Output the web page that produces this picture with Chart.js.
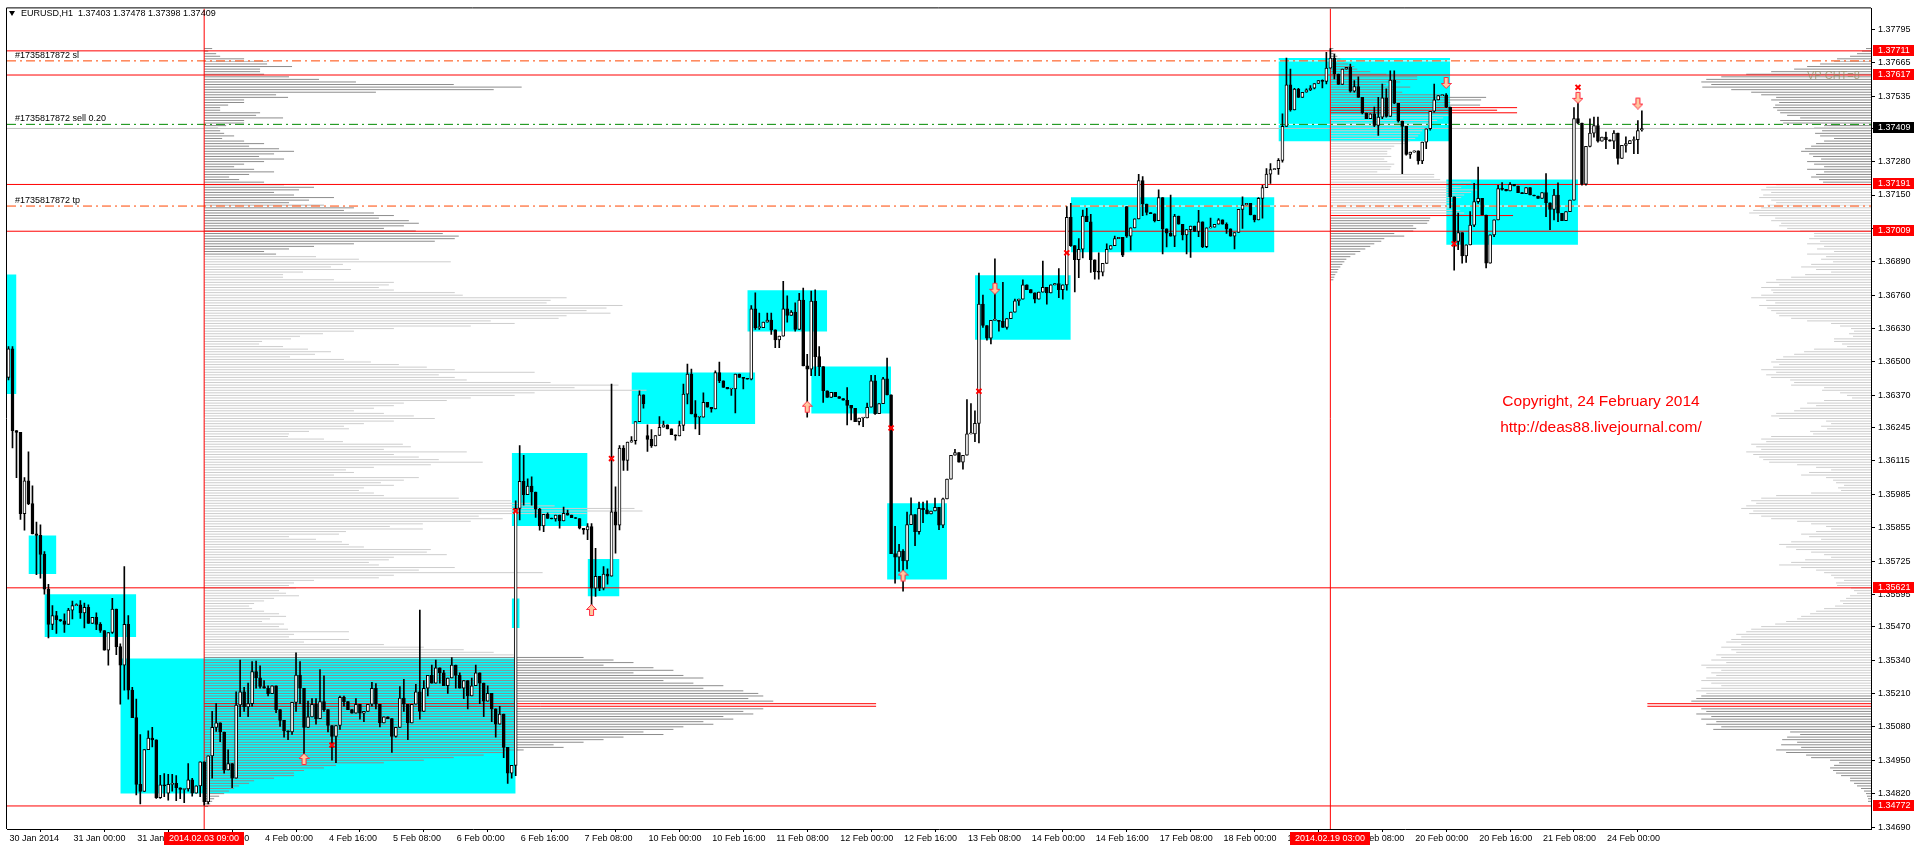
<!DOCTYPE html>
<html lang="en">
<head>
<meta charset="UTF-8" />
<title>EURUSD,H1</title>
<script src="https://cdn.jsdelivr.net/npm/chart.js@4/dist/chart.umd.min.js"></script>
<style>
  html, body { margin: 0; padding: 0; background: #fff; }
  #wrap { position: relative; width: 1920px; height: 850px; overflow: hidden; background: #fff; }
  #chart { position: absolute; left: 0; top: 0; }
  .hdr { position: absolute; left: 21px; top: 8px; font: 9px "Liberation Sans", Arial, sans-serif; color: #000; white-space: pre; }
  .tri { position: absolute; left: 9px; top: 11px; width: 0; height: 0; border-left: 3.5px solid transparent; border-right: 3.5px solid transparent; border-top: 5px solid #000; }
  .copy { position: absolute; left: 1401px; width: 400px; text-align: center; color: #f00; font: 15.5px "Liberation Sans", Arial, sans-serif; line-height: 18px; }
</style>
</head>
<body>
<div id="wrap">
  <canvas id="chart" width="1920" height="850"></canvas>
  <div class="tri"></div>
  <div class="hdr">EURUSD,H1  1.37403 1.37478 1.37398 1.37409</div>
  <div class="copy" style="top:392px">Copyright, 24 February 2014</div>
  <div class="copy" style="top:418px">http://deas88.livejournal.com/</div>
</div>
<script>
// prices in points (1e-5), one bar per hour from 30 Jan 2014 08:00
const closes = [
  136551,136233,136226,135910,136037,135949,135831,135825,135751,135616,
  135479,135513,135497,135493,135479,135534,135552,135555,135523,135545,
  135482,135506,135479,135455,135378,135447,135538,135392,135320,135479,
  135223,135116,134856,134829,134991,135036,135029,134804,134854,134850,
  134856,134860,134843,134836,134838,134874,134822,134850,134944,134788,
  134967,135078,135096,135060,134912,134937,134880,135165,135216,135157,
  135170,135295,135271,135237,135230,135209,135240,135147,135105,135064,
  135060,135175,135281,135230,135078,135119,135168,135112,135178,135147,
  135085,135043,135085,135195,135178,135147,135133,135168,135133,135140,
  135168,135230,135168,135095,135119,135112,135043,135078,135192,135168,
  135095,135168,135216,135140,135230,135280,135250,135310,135290,135240,
  135270,135320,135280,135230,135260,135200,135240,135290,135250,135180,
  135210,135150,135090,135130,135000,134900,134930,135930,136036,135984,
  136017,135994,135927,135862,135907,135891,135889,135904,135881,135911,
  135904,135894,135891,135853,135846,135859,135620,135666,135620,135675,
  135666,135917,135865,136165,136117,136188,136194,136268,136372,136337,
  136199,136173,136214,136246,136255,136240,136217,136212,136253,136375,
  136453,136298,136285,136285,136343,136324,136317,136459,136427,136401,
  136395,136395,136453,136440,136436,136433,136707,136634,136634,136655,
  136663,136625,136586,136601,136707,136681,136694,136627,136741,136485,
  136472,136737,136521,136482,136388,136362,136382,136365,136358,136351,
  136331,136320,136268,136282,136282,136324,136427,136299,136338,136434,
  136372,135754,135740,135764,135726,135867,135906,135840,135930,135925,
  135909,135920,135934,135865,135967,136044,136137,136147,136110,136137,
  136220,136220,136261,136725,136642,136593,136662,136662,136658,136635,
  136669,136694,136738,136745,136800,136782,136769,136745,136772,136791,
  136769,136800,136805,136782,136800,137063,136953,136898,136939,137068,
  137046,136898,136852,136850,136884,136939,136953,136980,136985,136916,
  136990,137022,137057,137206,137115,137082,137077,137050,137140,137018,
  137001,136990,137068,137036,136995,137015,137029,137008,137046,136949,
  137022,137025,137036,137053,137036,137018,136990,137004,137094,137111,
  137118,137072,137053,137137,137179,137231,137249,137252,137285,137417,
  137579,137481,137562,137530,137550,137559,137566,137584,137595,137592,
  137644,137683,137621,137580,137640,137647,137554,137572,137530,137469,
  137447,137466,137421,137453,137528,137456,137597,137507,137438,137417,
  137308,137317,137322,137283,137356,137408,137476,137520,137537,137540,
  137492,137143,136969,137004,136913,136956,137033,137124,137137,137072,
  136885,136995,137053,137175,137172,137166,137192,137185,137159,137155,
  137179,137150,137146,137137,137159,137120,137094,137150,137079,137050,
  137085,137130,137447,137430,137192,137339,137391,137420,137360,137375,
  137365,137360,137391,137292,137343,137350,137362,137365,137401,137409
];
// opens that differ from the previous close (weekend gaps, first bar)
const gapOpens = {0:136440, 40:134822, 160:136214, 280:137105, 409:137403};
const highs = {
  0:136560,1:136560,3:136226,4:136050,5:136150,6:136018,7:135877,8:135866,9:135762,10:135635,
  11:135552,12:135530,14:135520,15:135541,16:135569,17:135559,18:135571,19:135562,20:135555,22:135524,
  23:135486,26:135580,27:135538,28:135403,29:135704,30:135513,31:135234,32:135188,33:135050,35:135064,
  36:135078,38:134891,39:134898,40:134895,41:134895,42:134890,45:134937,46:134880,51:135140,52:135170,
  55:134990,57:135216,58:135340,59:135234,60:135250,61:135334,62:135336,63:135317,64:135260,65:135240,
  72:135368,73:135334,75:135180,76:135190,77:135190,78:135303,79:135278,83:135200,84:135200,87:135190,
  91:135253,92:135248,98:135237,99:135265,102:135245,103:135534,104:135260,106:135320,107:135340,109:135300,
  111:135350,113:135290,116:135270,117:135320,120:135240,123:135160,
  127:135960,128:136175,129:136137,130:136045,131:136053,132:135945,133:135930,135:135913,139:135935,140:135924,
  145:135871,146:135871,147:135775,148:135640,149:135704,150:135695,151:136414,152:136014,153:136175,154:136175,
  155:136188,156:136210,158:136388,159:136372,160:136255,161:136237,163:136288,164:136270,168:136270,169:136414,
  170:136492,171:136472,172:136350,174:136380,177:136466,178:136500,183:136453,186:136720,187:136769,188:136690,
  190:136690,191:136690,194:136814,195:136758,196:136700,197:136730,198:136767,199:136788,200:136530,201:136776,
  202:136781,203:136560,210:136400,215:136340,216:136448,217:136448,219:136440,220:136515,222:135860,223:135790,
  224:135770,225:135916,226:135971,228:135955,229:135955,230:135960,232:135970,234:135970,237:136160,240:136354,
  241:136338,242:136310,243:136846,244:136760,247:136902,249:136810,252:136745,254:136820,259:136893,263:136864,
  265:137105,266:137118,268:136980,269:137091,270:137098,271:137075,273:136925,275:136960,277:136990,280:137105,
  283:137230,284:137222,288:137170,291:137150,292:137075,298:137090,301:137060,303:137058,305:137042,309:137143,
  313:137140,314:137188,315:137253,316:137272,318:137292,319:137466,320:137683,321:137640,322:137565,323:137565,
  325:137563,326:137576,329:137598,330:137705,331:137720,332:137698,336:137660,337:137595,338:137610,342:137492,
  343:137530,344:137582,345:137563,346:137633,347:137633,357:137582,360:137545,363:137080,366:137085,367:137195,
  368:137259,373:137188,374:137198,376:137198,385:137233,387:137172,388:137197,392:137490,393:137550,396:137446,
  397:137453,398:137453,400:137395,402:137401,405:137376,407:137376,408:137440,409:137478
};
const lows = {
  0:136430,1:136166,2:136050,3:135887,4:135845,5:135945,7:135672,8:135659,9:135596,10:135426,
  11:135458,12:135444,13:135490,14:135447,16:135500,18:135502,19:135465,22:135458,23:135447,25:135320,
  26:135444,27:135361,28:135168,29:135223,30:135188,31:135116,32:134815,33:134780,34:134836,36:135002,
  37:134801,38:134801,39:134808,40:134795,41:134830,42:134793,43:134800,44:134785,45:134830,46:134810,
  48:134808,49:134775,50:134780,51:134880,52:135062,53:135022,54:134900,55:134930,56:134843,57:134880,
  58:135120,59:135140,60:135120,61:135160,62:135230,63:135230,65:135200,67:135135,68:135082,69:135040,
  70:135030,71:135050,72:135140,73:135170,74:134963,75:135080,76:135120,77:135090,78:135120,79:135140,
  80:135060,81:134950,82:134940,83:135070,84:135160,88:135110,89:135100,91:135160,92:135150,93:135080,
  96:134980,97:135040,99:135140,100:135030,103:135110,105:135200,108:135250,110:135210,112:135230,114:135190,
  115:135150,118:135170,119:135120,121:135100,122:135040,124:134960,125:134860,126:134880,
  127:134890,128:135885,129:135943,131:135943,132:135895,133:135845,134:135840,137:135880,138:135853,143:135850,
  144:135830,145:135808,146:135518,147:135588,148:135610,149:135613,150:135635,151:135666,152:135756,153:135846,
  154:136078,155:136078,157:136180,159:136320,160:136152,161:136168,167:136196,169:136233,170:136337,172:136240,
  173:136217,174:136285,176:136305,178:136420,181:136370,182:136302,184:136395,186:136430,187:136627,188:136627,
  191:136607,192:136556,193:136556,195:136655,197:136620,199:136485,200:136285,201:136447,202:136447,203:136447,
  204:136343,210:136255,211:136275,213:136255,214:136248,217:136296,219:136338,221:135754,222:135639,223:135685,
  224:135608,225:135695,227:135785,228:135830,229:135875,233:135847,234:135855,239:136083,242:136190,243:136185,
  244:136635,245:136585,246:136570,248:136620,250:136628,251:136680,253:136720,257:136730,260:136725,263:136750,
  264:136745,265:136780,266:136950,267:136773,268:136828,269:136905,271:136849,272:136822,273:136822,274:136835,
  279:136910,280:136985,281:136935,284:137070,285:137072,287:137045,289:136921,290:136948,291:136990,292:136949,
  294:136975,295:136921,296:136907,298:136988,299:136945,300:136945,305:137000,307:136940,309:137020,311:137072,
  312:137045,314:137060,316:137195,318:137230,319:137278,320:137417,321:137476,323:137530,324:137543,325:137550,
  326:137556,327:137563,329:137567,330:137582,332:137602,333:137580,336:137550,337:137550,338:137530,339:137466,
  340:137447,342:137416,343:137382,344:137447,345:137453,346:137456,347:137505,348:137433,349:137233,350:137305,
  351:137292,353:137270,354:137272,355:137330,356:137402,357:137472,360:137490,361:137100,362:136857,363:136937,
  364:136885,365:136888,366:137004,367:137027,368:137117,369:137072,370:136866,372:136988,373:137053,374:137169,
  376:137170,385:137066,386:137015,387:137053,388:137046,389:137050,392:137130,393:137427,394:137188,395:137188,
  396:137337,397:137375,398:137356,400:137330,402:137330,403:137270,405:137317,407:137311,408:137311,409:137398
};

const xTickBars = [0,16,32,48,64,80,96,112,128,144,160,176,192,208,224,240,256,272,288,304,320,336,352,368,384,400];
const xTickLabels = ['30 Jan 2014','31 Jan 00:00','31 Jan 16:00','3 Feb 08:00','4 Feb 00:00','4 Feb 16:00','5 Feb 08:00',
  '6 Feb 00:00','6 Feb 16:00','7 Feb 08:00','10 Feb 00:00','10 Feb 16:00','11 Feb 08:00','12 Feb 00:00','12 Feb 16:00',
  '13 Feb 08:00','14 Feb 00:00','14 Feb 16:00','17 Feb 08:00','18 Feb 00:00','18 Feb 16:00','19 Feb 08:00','20 Feb 00:00',
  '20 Feb 16:00','21 Feb 08:00','24 Feb 00:00'];
const yTicks = [1.37795,1.37665,1.37535,1.37410,1.37280,1.37150,1.37020,1.36890,1.36760,1.36630,1.36500,1.36370,
  1.36245,1.36115,1.35985,1.35855,1.35725,1.35595,1.35470,1.35340,1.35210,1.35080,1.34950,1.34820,1.34690];

// zones: [fromBar, toBar, top, bottom]
const zones = [
  [-1,2,1.36841,1.36375],[5,12,1.35825,1.35675],[9,32,1.35596,1.35430],[28,127,1.35346,1.34820],
  [126,128,1.35579,1.35465],[126,145,1.36146,1.35862],[145,153,1.35733,1.35588],[156,187,1.36459,1.36259],
  [185,205,1.36779,1.36619],[201,221,1.36482,1.36300],[220,235,1.35950,1.35653],[242,266,1.36838,1.36587],
  [266,317,1.37141,1.36927],[318,361,1.37683,1.37359],[360,393,1.37210,1.36956]
];
const levelLines = [1.37711,1.37617,1.37191,1.37009,1.35621,1.34772];
const bidPrice = 1.37409;
const orderLines = [
  {price:1.37672, label:'#1735817872 sl', color:'#ff4500'},
  {price:1.37425, label:'#1735817872 sell 0.20', color:'#008a00'},
  {price:1.37107, label:'#1735817872 tp', color:'#ff4500'}
];
const markerBars = [49, 331];
const markerLabels = ['2014.02.03 09:00', '2014.02.19 03:00'];
const priceBadges = [[1.37711,'#ff0000'],[1.37617,'#ff0000'],[1.37409,'#000000'],[1.37191,'#ff0000'],
  [1.37009,'#ff0000'],[1.35621,'#ff0000'],[1.34772,'#ff0000']];

// trade marks: [bar, price]
const crossMarks = [[81,1.35009],[127,1.35920],[151,1.36124],[221,1.36243],[243,1.36386],[265,1.36925],[362,1.36960],[393,1.37569]];
const upArrows = [[74,1.34953],[146,1.35533],[200,1.36324],[224,1.35667]];
const downArrows = [[247,1.36787],[360,1.37588],[393,1.37530],[408,1.37508]];

// volume profiles, one row per pip from the top price downward
const profileLeft = [8,4,12,16,40,63,63,88,56,56,60,85,115,152,250,318,290,172,72,84,40,40,24,16,16,56,52,79,40,40,22,14,16,
  20,30,18,40,60,45,75,90,70,55,80,60,40,30,50,70,45,25,35,60,
  80,110,95,70,90,130,105,85,120,150,140,170,190,175,205,215,200,180,212,
  239,255,251,231,150,110,85,60,
  72,112,155,247,139,127,147,99,79,79,
  130,190,185,175,190,251,259,363,347,343,419,403,383,407,363,355,287,311,267,
  190,150,119,96,87,58,55,79,104,127,111,86,140,167,195,
  223,251,331,235,251,263,347,415,371,443,331,311,267,243,
  200,190,170,150,180,210,231,190,160,140,145,105,85,84,120,
  139,199,207,180,263,190,215,235,279,227,170,142,150,130,215,200,177,190,160,155,
  170,180,255,307,327,351,431,439,383,275,299,267,219,186,219,
  142,135,85,112,138,145,160,227,223,243,190,185,165,175,251,215,339,190,175,
  110,90,85,92,75,82,95,70,60,50,45,48,60,75,82,66,58,80,75,84,145,90,85,145,100,
  180,220,260,290,310,
  380,410,430,400,450,470,430,480,500,460,490,520,500,540,555,560,545,570,673,673,
  560,540,550,520,530,500,510,480,470,440,460,420,400,380,350,360,320,300,280,250,
  220,180,132,120,100,90,90,70,50,45,35,30,25,20,15,10,8,6,4];
const profileRight = [5,9,14,21,34,37,51,64,77,100,125,150,165,170,160,169,140,120,110,95,
  100,92,96,98,94,91,84,71,91,88,47,57,49,56,51,37,47,55,60,66,70,62,58,50,64,57,47,64,47,55,60,52,48,
  95,105,110,100,108,112,100,95,104,110,118,122,112,96,100,90,92,84,71,57,
  57,62,51,64,47,54,37,64,45,50,38,60,70,55,40,66,80,95,105,92,
  110,100,98,110,120,105,96,112,104,100,95,92,80,64,40,31,20,17,22,18,
  37,37,29,24,57,67,77,88,95,100,92,98,110,95,105,100,81,77,80,47,
  49,31,24,19,47,64,55,71,77,95,100,92,45,40,50,44,61,58,100,110,
  105,120,115,110,125,118,112,108,102,74,55,40,62,70,45,38,35,27,33,30,
  60,95,110,120,115,125,130,118,122,110,100,74,60,45,40,55,70,62,50,80,
  92,85,75,60,47,40,66,80,92,70,55,47,40,37,27,35,34,20,17,14,
  21,25,31,28,36,47,55,61,70,74,85,96,110,120,125,135,130,140,145,130,
  150,140,135,155,150,160,145,170,165,150,160,155,165,170,160,150,170,175,165,
  170,175,180,224,224,170,165,175,160,170,155,165,150,158,81,71,84,89,74,90,
  70,95,85,65,60,41,32,37,41,38,35,30,21,21,17,14,10,7,5,4,3,3];
const profileSession = [3,3,5,7,10,14,18,24,27,40,56,87,87,70,56,80,64,72,110,
  156,151,120,150,187,167,187,
  120,113,107,100,97,94,92,90,88,85,80,75,
  64,61,57,57,61,54,57,64,61,60,47,104,104,110,
  141,136,131,147,141,134,131,120,125,117,120,130,134,
  183,
  100,99,97,83,86,83,64,74,54,51,44,40,35,30,25,20,16,14,12,10,8,7,5,4,3];
// top pip, anchor bar, direction, dark above/below, red rows (pips)
const profiles = [
  {rows: profileLeft, top: 13772, anchor: 49, dir: 1, darkAbove: 13692, darkBelow: 13535, red: [13517,13516]},
  {rows: profileRight, top: 13772, anchor: 'right', dir: -1, darkAbove: 13720, darkBelow: 13520, red: [13517,13516]},
  {rows: profileSession, top: 13772, anchor: 331, dir: 1, darkAbove: 13750, darkBelow: 13706, red: [13749,13748,13747,13707]}
];
const volToBars = 0.25;

const X_MIN = -0.375, X_MAX = 466.375;
const Y_MIN = 1.346823, Y_MAX = 1.378763;
const pt = v => v / 1e5;

const opens = closes.map((c, i) => (i in gapOpens ? gapOpens[i] : closes[i - 1]));
const wickData = closes.map((c, i) => {
  const o = opens[i];
  const hi = Math.max(highs[i] ?? c, o, c), lo = Math.min(lows[i] ?? c, o, c);
  return {x: i, y: [pt(lo), pt(hi)]};
});
const bodyData = closes.map((c, i) => ({x: i, y: [pt(opens[i]), pt(c)]}));
const bodyColors = closes.map((c, i) => (c >= opens[i] ? '#ffffff' : '#000000'));

const datasets = [];

zones.forEach(z => {
  datasets.push({
    type: 'line', order: 100,
    data: [{x: z[0], y: z[2]}, {x: z[1], y: z[2]}],
    fill: {value: z[3]}, backgroundColor: '#00ffff', borderWidth: 0, pointRadius: 0
  });
});

profiles.forEach(p => {
  const anchor = p.anchor === 'right' ? X_MAX : p.anchor;
  const groups = {dark: [], light: [], red: []};
  p.rows.forEach((len, k) => {
    const pip = p.top - k;
    const key = p.red.includes(pip) ? 'red' : (pip >= p.darkAbove || pip <= p.darkBelow ? 'dark' : 'light');
    const y = pip / 1e4;
    groups[key].push({x: anchor, y}, {x: anchor + p.dir * len * volToBars, y}, {x: anchor, y: null});
  });
  const cols = {dark: '#8c8c8c', light: '#cdcdcd', red: '#ff0000'};
  Object.keys(groups).forEach(k => {
    datasets.push({
      type: 'line', order: k === 'red' ? 88 : 90, data: groups[k], borderColor: cols[k],
      borderWidth: 1, pointRadius: 0, spanGaps: false, fill: false
    });
  });
});

orderLines.forEach(l => {
  datasets.push({type: 'line', order: 60, data: [{x: X_MIN, y: l.price}, {x: X_MAX, y: l.price}],
    borderColor: '#ffffff', borderWidth: 1, pointRadius: 0});
  datasets.push({type: 'line', order: 55, data: [{x: X_MIN, y: l.price}, {x: X_MAX, y: l.price}],
    borderColor: l.color, borderWidth: 1, borderDash: [9, 4, 2, 4], pointRadius: 0});
});
datasets.push({type: 'line', order: 58, data: [{x: X_MIN, y: bidPrice}, {x: X_MAX, y: bidPrice}],
  borderColor: '#c0c0c0', borderWidth: 1, pointRadius: 0});
levelLines.forEach(v => {
  datasets.push({type: 'line', order: 50, data: [{x: X_MIN, y: v}, {x: X_MAX, y: v}],
    borderColor: '#ff0000', borderWidth: 1, pointRadius: 0});
});
markerBars.forEach(b => {
  datasets.push({type: 'line', order: 45, data: [{x: b, y: Y_MIN}, {x: b, y: Y_MAX}],
    borderColor: '#ff0000', borderWidth: 1, pointRadius: 0});
});

datasets.push({type: 'bar', order: 10, data: wickData, backgroundColor: '#000', barThickness: 1,
  grouped: false, borderWidth: 0, minBarLength: 1});
datasets.push({type: 'bar', order: 5, data: bodyData, backgroundColor: bodyColors, borderColor: '#000',
  borderWidth: 1, borderSkipped: false, barThickness: 3, grouped: false, minBarLength: 1});

function arrowImg(down) {
  const c = document.createElement('canvas');
  c.width = 11; c.height = 13;
  const g = c.getContext('2d');
  if (down) { g.translate(0, 13); g.scale(1, -1); }
  g.translate(0.5, 0.5);
  g.beginPath();
  g.moveTo(5, 0); g.lineTo(10, 5); g.lineTo(7, 5); g.lineTo(7, 11); g.lineTo(3, 11); g.lineTo(3, 5); g.lineTo(0, 5);
  g.closePath();
  g.fillStyle = '#ffc8a0'; g.fill();
  g.strokeStyle = '#ff2a40'; g.lineWidth = 1; g.stroke();
  return c;
}
datasets.push({type: 'scatter', order: 1, data: upArrows.map(a => ({x: a[0], y: a[1]})),
  pointStyle: arrowImg(false), pointRadius: 6});
datasets.push({type: 'scatter', order: 1, data: downArrows.map(a => ({x: a[0], y: a[1]})),
  pointStyle: arrowImg(true), pointRadius: 6});
datasets.push({type: 'scatter', order: 1, data: crossMarks.map(a => ({x: a[0], y: a[1]})),
  pointStyle: 'crossRot', pointRadius: 3.5, borderColor: '#ff0000', borderWidth: 2});

const overlay = {
  id: 'overlay',
  afterDraw(chart) {
    const {ctx, chartArea, scales: {x, y}} = chart;
    ctx.save();
    ctx.strokeStyle = '#000';
    ctx.lineWidth = 1;
    ctx.beginPath();
    ctx.moveTo(chartArea.left - 0.5, chartArea.bottom);
    ctx.lineTo(chartArea.left - 0.5, chartArea.top - 0.5);
    ctx.lineTo(chartArea.right, chartArea.top - 0.5);
    ctx.stroke();

    ctx.font = '9px "Liberation Sans", Arial, sans-serif';
    ctx.textBaseline = 'alphabetic';
    ctx.fillStyle = '#000';
    orderLines.forEach(l => {
      const py = y.getPixelForValue(l.price);
      ctx.fillText(l.label, chartArea.left + 8, py - 3);
    });

    ctx.fillStyle = 'rgba(150,140,100,0.75)';
    ctx.font = '11px "Liberation Sans", Arial, sans-serif';
    ctx.fillText('VP CHT=8', chartArea.right - 64, y.getPixelForValue(1.37617) + 4);

    ctx.font = '9px "Liberation Sans", Arial, sans-serif';
    ctx.textBaseline = 'middle';
    priceBadges.forEach(([v, bg]) => {
      const py = Math.round(y.getPixelForValue(v));
      ctx.fillStyle = bg;
      ctx.fillRect(chartArea.right + 2, py - 6, 41, 11);
      ctx.fillStyle = '#fff';
      ctx.fillText(v.toFixed(5), chartArea.right + 7, py);
    });
    markerBars.forEach((b, i) => {
      const px = Math.round(x.getPixelForValue(b));
      ctx.fillStyle = '#ff0000';
      ctx.fillRect(px - 40, chartArea.bottom + 3, 80, 13);
      ctx.fillStyle = '#fff';
      ctx.textAlign = 'center';
      ctx.fillText(markerLabels[i], px, chartArea.bottom + 10);
      ctx.textAlign = 'left';
    });
    ctx.restore();
  }
};

Chart.defaults.font.family = '"Liberation Sans", Arial, sans-serif';
Chart.defaults.font.size = 9;
Chart.defaults.color = '#000';

new Chart(document.getElementById('chart'), {
  type: 'bar',
  data: {datasets},
  options: {
    responsive: false,
    animation: false,
    events: [],
    layout: {padding: {left: 4, top: 4, right: 0, bottom: 0}},
    plugins: {legend: {display: false}, tooltip: {enabled: false}},
    scales: {
      x: {
        type: 'linear', position: 'bottom', min: X_MIN, max: X_MAX, offset: false,
        afterFit: s => { s.height = 21; },
        afterBuildTicks: s => { s.ticks = xTickBars.map(v => ({value: v})); },
        ticks: {autoSkip: false, maxRotation: 0, minRotation: 0, align: 'start', padding: 1, labelOffset: 1,
          callback: (v, i) => xTickLabels[i]},
        grid: {drawOnChartArea: false, tickLength: 3, color: '#000'},
        border: {display: true, color: '#000'}
      },
      y: {
        type: 'linear', position: 'right', min: Y_MIN, max: Y_MAX,
        afterFit: s => { s.width = 49; },
        afterBuildTicks: s => { s.ticks = yTicks.map(v => ({value: v})); },
        ticks: {autoSkip: false, padding: 3, callback: v => Number(v).toFixed(5)},
        grid: {drawOnChartArea: false, tickLength: 4, color: '#000'},
        border: {display: true, color: '#000'}
      }
    }
  },
  plugins: [overlay]
});
</script>
</body>
</html>
